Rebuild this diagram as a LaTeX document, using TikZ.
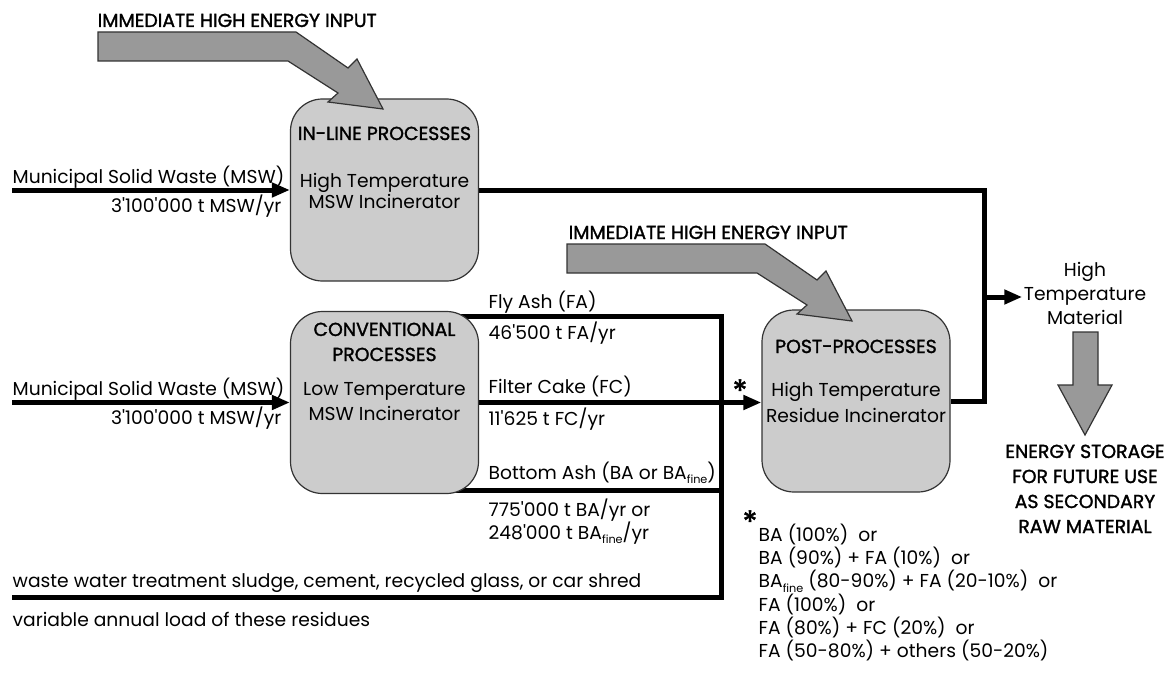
\documentclass[tikz,border=0pt]{standalone}
\usepackage{fontspec}
\setmainfont{Poppins}
\newfontfamily\headfont[FakeBold=1.5]{Poppins}
\usetikzlibrary{arrows.meta,backgrounds}

\newcommand{\q}{\textquotesingle}
\newcommand{\fine}{\raisebox{-0.45ex}{\fontsize{8}{8}\selectfont fine}}

\tikzset{
  procbox/.style={draw=black!80,fill=black!20,line width=0.3mm,rounded corners=8mm,
    minimum width=47mm,minimum height=45.5mm},
  bigarrow/.style={draw=black!80,fill=black!40,line width=0.3mm},
  pipe/.style={line width=1.25mm},
  feed/.style={pipe,-{Triangle[length=4.5mm,width=3.5mm]}},
  txt/.style={inner sep=1pt,font=\fontsize{13.3}{16.7}\selectfont},
  head/.style={inner sep=1pt,font=\headfont\fontsize{13.4}{17.8}\selectfont},
  star/.style={inner sep=0pt,font=\headfont\fontsize{22}{22}\selectfont},
  energy arrow/.pic={
    \draw[bigarrow] (0,0) -- (198,0) -- (250,36) -- (259,27) -- (285,77)
      -- (230,70) -- (240,61) -- (190,29) -- (0,29) -- cycle;
  }
}

\begin{document}
\begin{tikzpicture}[x=0.25mm,y=-0.25mm]
  \useasboundingbox (0,0) rectangle (1172,678);

  % process boxes
  \node[procbox] (inline) at (384.5,190) {};
  \node[procbox] (conv) at (384.5,402.5) {};
  \node[procbox] (post) at (856,401) {};

  \node[head,anchor=base] (inlinehead) at (384.5,140) {IN-LINE PROCESSES};
  \node[txt,align=center,anchor=north,font=\fontsize{13.3}{14.5}\selectfont] (inlinetext) at (384.5,172) {High Temperature\\MSW Incinerator};
  \node[head,align=center,anchor=north] (convhead) at (384.5,321) {CONVENTIONAL\\PROCESSES};
  \node[txt,align=center,anchor=north,font=\fontsize{13.3}{17.8}\selectfont] (convtext) at (384.5,381) {Low Temperature\\MSW Incinerator};
  \node[head,anchor=base] (posthead) at (856,353) {POST-PROCESSES};
  \node[txt,align=center,anchor=north,font=\fontsize{13.3}{18.3}\selectfont] (posttext) at (856,381) {High Temperature\\Residue Incinerator};

  % energy inputs
  \node[head,anchor=base west] (energyA) at (96,27) {IMMEDIATE HIGH ENERGY INPUT};
  \pic at (98,32) {energy arrow};
  \node[head,anchor=base west] (energyB) at (567,239) {IMMEDIATE HIGH ENERGY INPUT};
  \pic at (567,244) {energy arrow};

  % flows in and out
  \coordinate (src1) at (12,190);
  \coordinate (src2) at (12,402.5);
  \coordinate (bus) at (984,297);
  \coordinate (fa) at (721,316);
  \coordinate (ba) at (721,490);
  \coordinate (sl) at (721,597);
  \coordinate (sink) at (12,597);

  \node[txt,anchor=base west] (msw1) at (11,183) {Municipal Solid Waste (MSW)};
  \node[txt,anchor=base east] (load1) at (283,212) {3\q100\q000 t MSW/yr};
  \node[txt,anchor=base west] (msw2) at (11,395) {Municipal Solid Waste (MSW)};
  \node[txt,anchor=base east] (load2) at (283,424) {3\q100\q000 t MSW/yr};

  \node[txt,anchor=base west] (fatxt) at (487,308) {Fly Ash (FA)};
  \node[txt,anchor=base west] (faload) at (487,339) {46\q500 t FA/yr};
  \node[txt,anchor=base west] (fctxt) at (487,393) {Filter Cake (FC)};
  \node[txt,anchor=base west] (fcload) at (487,425) {11\q625 t FC/yr};
  \node[txt,anchor=base west] (batxt) at (487,479) {Bottom Ash (BA or BA\fine)};
  \node[txt,anchor=north west,align=left,font=\fontsize{13.3}{16.4}\selectfont] (baload) at (487,497) {775\q000 t BA/yr or\\248\q000 t BA\fine/yr};

  \node[txt,anchor=base west] (sludge) at (11,587) {waste water treatment sludge, cement, recycled glass, or car shred};
  \node[txt,anchor=base west] (variable) at (11,626) {variable annual load of these residues};

  \node[star,anchor=north] (star1) at (740,379) {*};
  \node[star,anchor=north] (star2) at (750,510) {*};
  \node[txt,anchor=north west,align=left,font=\fontsize{13.3}{16.6}\selectfont] (mixes) at (757,522)
    {BA (100\%)~ or\\BA (90\%) + FA (10\%)~ or\\BA\fine\ (80-90\%) + FA (20-10\%)~ or\\FA (100\%)~ or\\FA (80\%) + FC (20\%)~ or\\FA (50-80\%) + others (50-20\%)};

  \node[txt,align=center,anchor=north,font=\fontsize{13.3}{17.1}\selectfont] (hot) at (1085,261) {High\\Temperature\\Material};
  \node[head,align=center,anchor=north] (store) at (1085,443) {ENERGY STORAGE\\FOR FUTURE USE\\AS SECONDARY\\RAW MATERIAL};
  \draw[bigarrow] (1073,332) -- (1098,332) -- (1098,385) -- (1112,385) -- (1085,435) -- (1058,385) -- (1073,385) -- cycle;

  \begin{scope}[on background layer]
    \draw[feed] (src1) -- (inline.west);
    \draw[feed] (src2) -- (conv.west);
    \draw[pipe] (inline.east) -| (bus) |- (post.east);
    \draw[feed] (bus) -- (bus -| hot.west);
    \draw[pipe] (conv.center |- fa) -- (fa) -- (sl) -- (sink);
    \draw[pipe] (conv.center |- ba) -- (ba);
    \draw[feed] (conv.east) -- (conv.east -| post.west);
  \end{scope}
\end{tikzpicture}
\end{document}
